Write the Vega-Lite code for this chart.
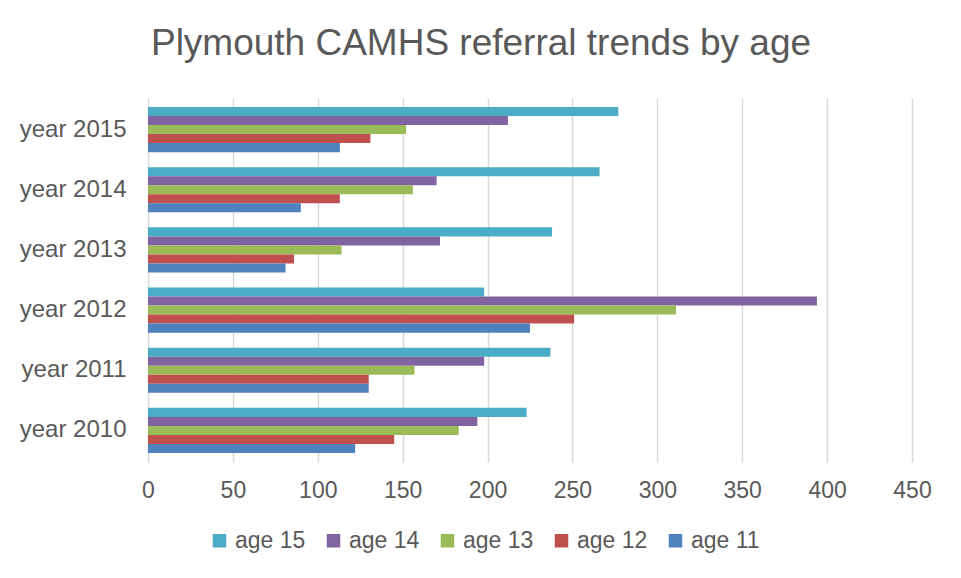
{
  "$schema": "https://vega.github.io/schema/vega-lite/v6.json",
  "autosize": {"type": "none"},
  "padding": {"left": 148, "top": 98, "right": 49, "bottom": 116},
  "width": 764,
  "height": 364,
  "background": "white",
  "title": {
    "text": "Plymouth CAMHS referral trends by age",
    "anchor": "middle",
    "dx": -49,
    "offset": 6,
    "baseline": "alphabetic",
    "font": "Liberation Sans",
    "fontSize": 37,
    "fontWeight": "normal",
    "color": "#595959"
  },
  "data": {
    "values": [
      {"year": "year 2015", "age": "age 15", "referrals": 277},
      {"year": "year 2015", "age": "age 14", "referrals": 212},
      {"year": "year 2015", "age": "age 13", "referrals": 152},
      {"year": "year 2015", "age": "age 12", "referrals": 131},
      {"year": "year 2015", "age": "age 11", "referrals": 113},
      {"year": "year 2014", "age": "age 15", "referrals": 266},
      {"year": "year 2014", "age": "age 14", "referrals": 170},
      {"year": "year 2014", "age": "age 13", "referrals": 156},
      {"year": "year 2014", "age": "age 12", "referrals": 113},
      {"year": "year 2014", "age": "age 11", "referrals": 90},
      {"year": "year 2013", "age": "age 15", "referrals": 238},
      {"year": "year 2013", "age": "age 14", "referrals": 172},
      {"year": "year 2013", "age": "age 13", "referrals": 114},
      {"year": "year 2013", "age": "age 12", "referrals": 86},
      {"year": "year 2013", "age": "age 11", "referrals": 81},
      {"year": "year 2012", "age": "age 15", "referrals": 198},
      {"year": "year 2012", "age": "age 14", "referrals": 394},
      {"year": "year 2012", "age": "age 13", "referrals": 311},
      {"year": "year 2012", "age": "age 12", "referrals": 251},
      {"year": "year 2012", "age": "age 11", "referrals": 225},
      {"year": "year 2011", "age": "age 15", "referrals": 237},
      {"year": "year 2011", "age": "age 14", "referrals": 198},
      {"year": "year 2011", "age": "age 13", "referrals": 157},
      {"year": "year 2011", "age": "age 12", "referrals": 130},
      {"year": "year 2011", "age": "age 11", "referrals": 130},
      {"year": "year 2010", "age": "age 15", "referrals": 223},
      {"year": "year 2010", "age": "age 14", "referrals": 194},
      {"year": "year 2010", "age": "age 13", "referrals": 183},
      {"year": "year 2010", "age": "age 12", "referrals": 145},
      {"year": "year 2010", "age": "age 11", "referrals": 122}
    ]
  },
  "mark": {"type": "bar"},
  "encoding": {
    "y": {
      "field": "year",
      "type": "nominal",
      "sort": ["year 2015", "year 2014", "year 2013", "year 2012", "year 2011", "year 2010"],
      "scale": {"paddingInner": 0.25, "paddingOuter": 0.15},
      "axis": {
        "title": null,
        "ticks": false,
        "domain": false,
        "labelPadding": 22,
        "labelFont": "Liberation Sans",
        "labelFontSize": 24,
        "labelColor": "#595959"
      }
    },
    "yOffset": {
      "field": "age",
      "type": "nominal",
      "sort": ["age 15", "age 14", "age 13", "age 12", "age 11"]
    },
    "x": {
      "field": "referrals",
      "type": "quantitative",
      "scale": {"domain": [0, 450], "nice": false},
      "axis": {
        "title": null,
        "values": [0, 50, 100, 150, 200, 250, 300, 350, 400, 450],
        "ticks": false,
        "domain": false,
        "grid": true,
        "gridColor": "#D9D9D9",
        "gridWidth": 1.5,
        "labelFlush": false,
        "labelPadding": 17,
        "labelFont": "Liberation Sans",
        "labelFontSize": 23,
        "labelColor": "#595959"
      }
    },
    "color": {
      "field": "age",
      "type": "nominal",
      "scale": {
        "domain": ["age 15", "age 14", "age 13", "age 12", "age 11"],
        "range": ["#4BACC6", "#8064A2", "#9BBB59", "#C0504D", "#4F81BD"]
      },
      "legend": {
        "title": null,
        "orient": "none",
        "legendX": 60,
        "legendY": 431,
        "direction": "horizontal",
        "columns": 5,
        "symbolType": "square",
        "symbolSize": 182,
        "symbolStrokeWidth": 0,
        "labelOffset": 4,
        "columnPadding": 16,
        "labelFont": "Liberation Sans",
        "labelFontSize": 23,
        "labelColor": "#595959"
      }
    }
  },
  "config": {
    "view": {"stroke": null}
  }
}
